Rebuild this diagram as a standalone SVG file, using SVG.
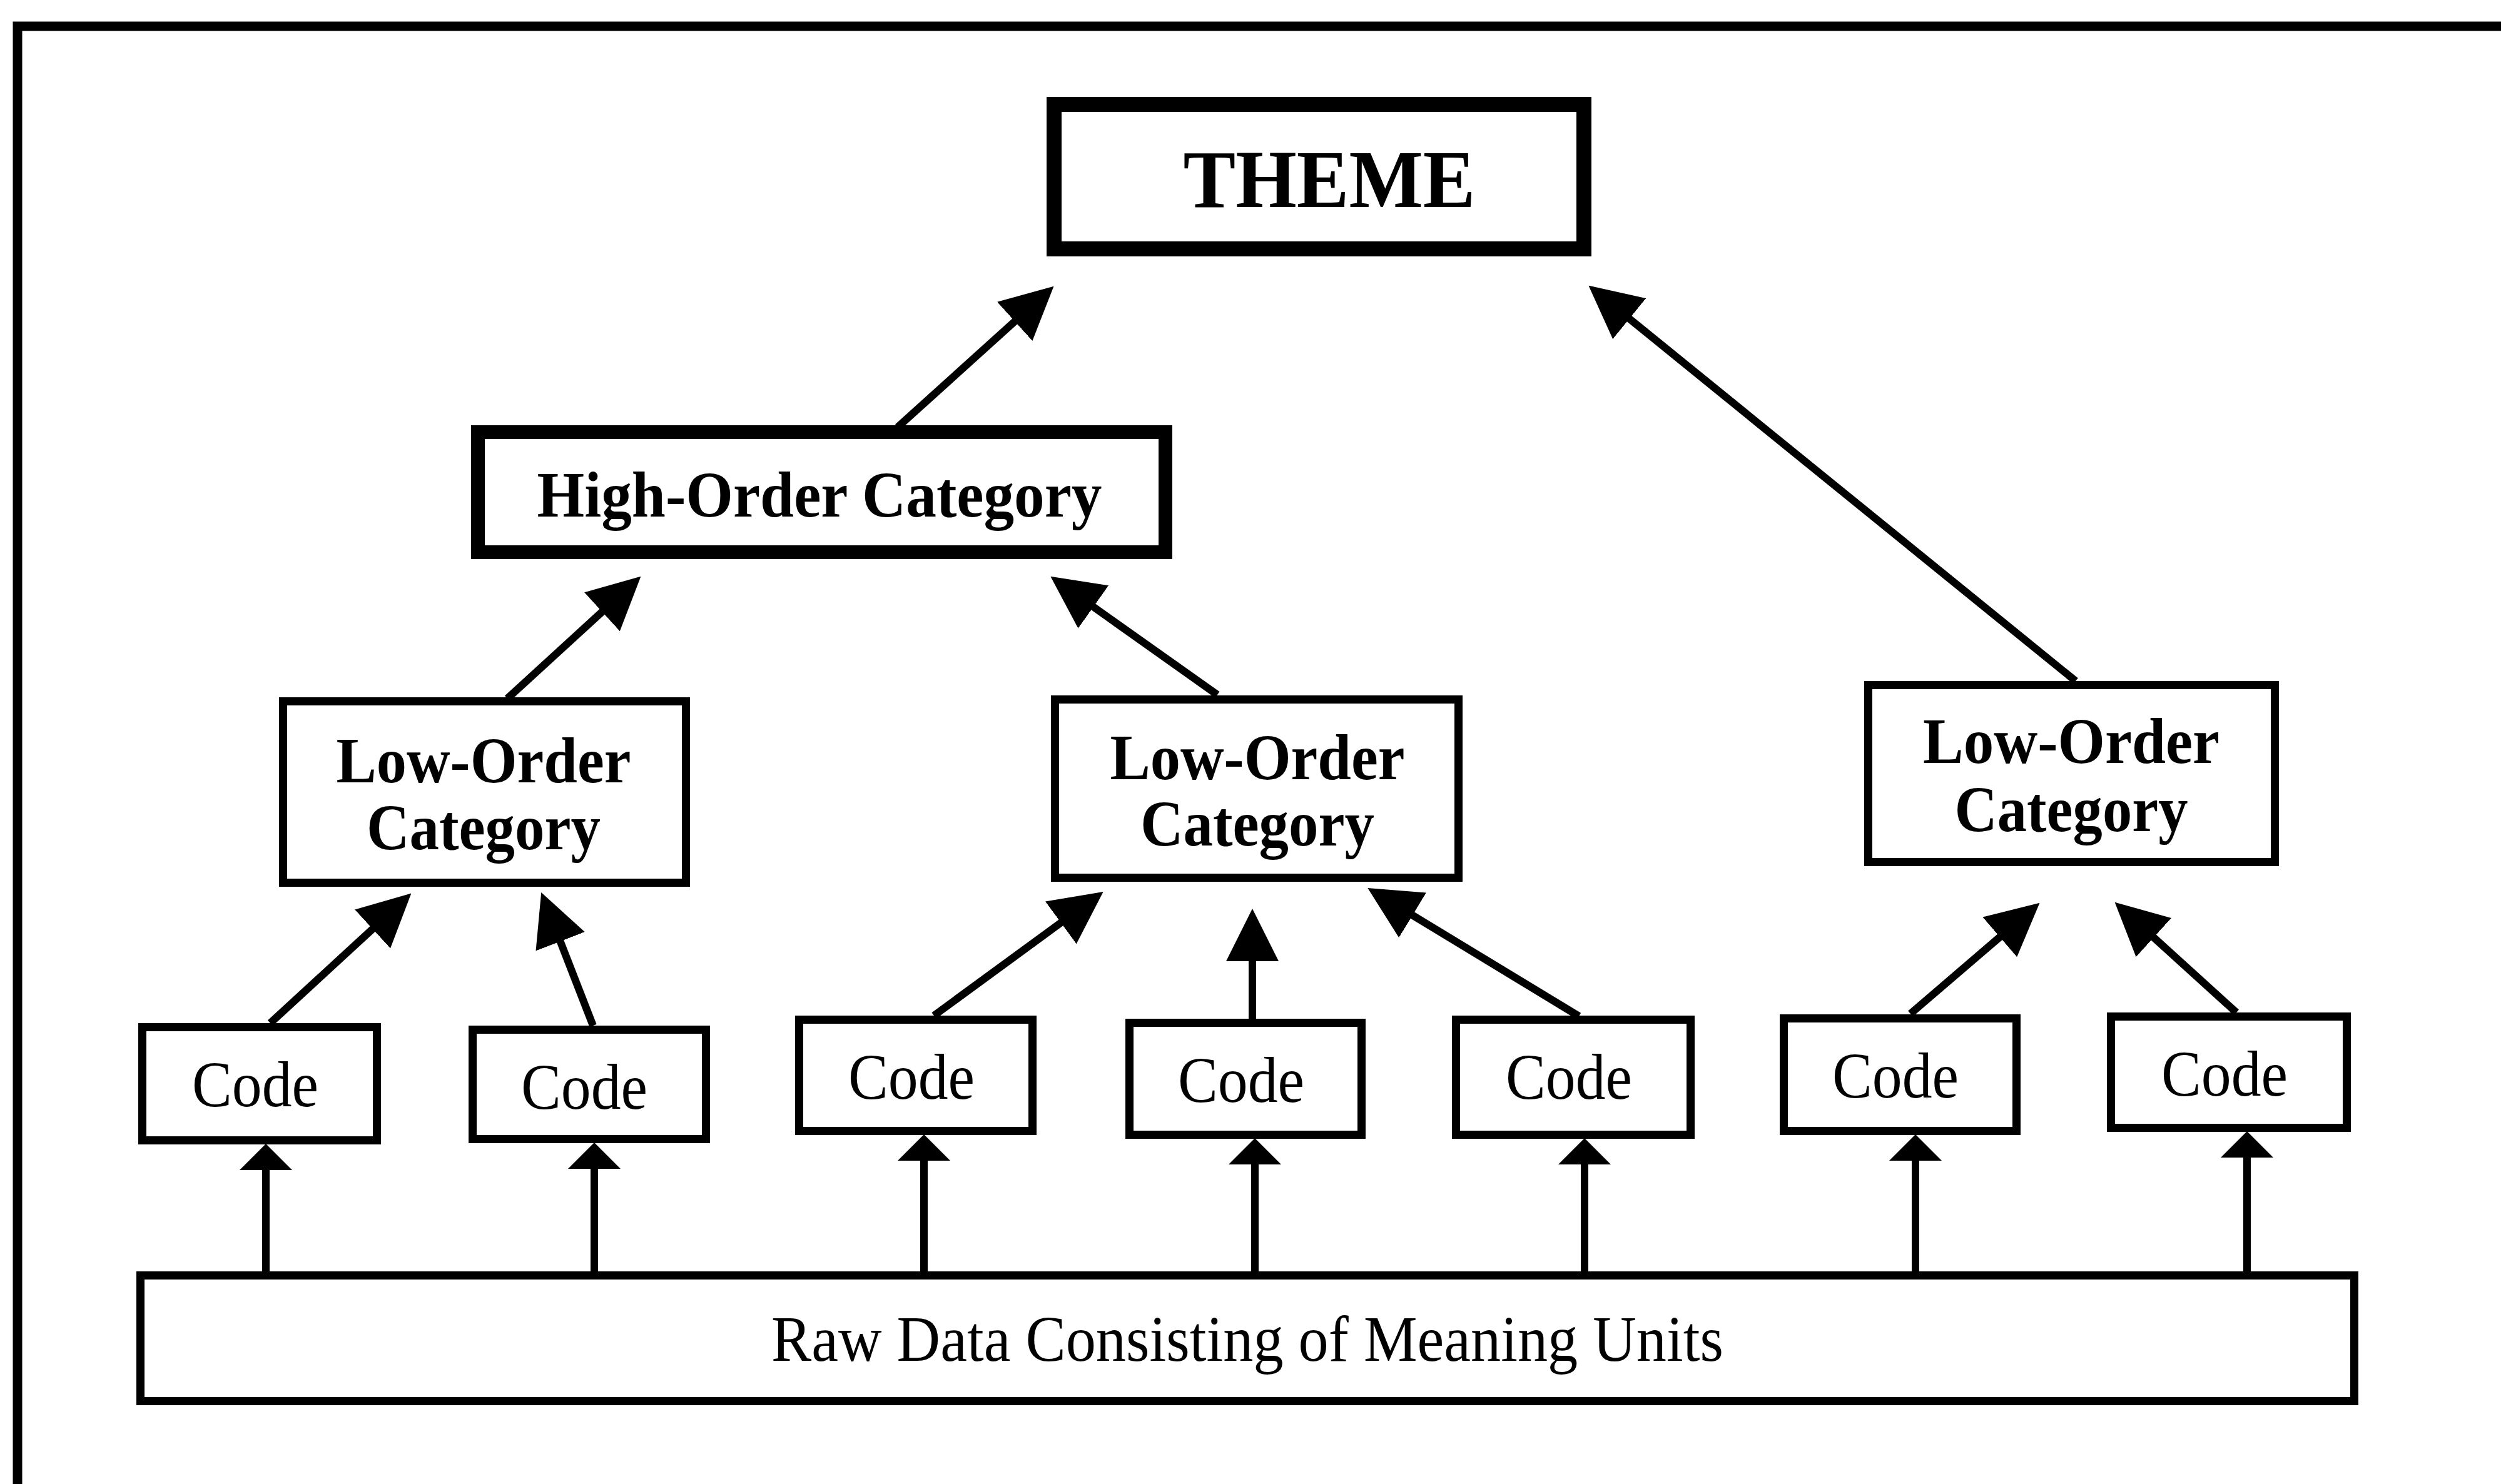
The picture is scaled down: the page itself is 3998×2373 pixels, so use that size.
<svg xmlns="http://www.w3.org/2000/svg" width="3998" height="2373" viewBox="0 0 3998 2373">
<style>
.box{fill:#fff;stroke:#000}
.t{font-family:"Liberation Serif","Times New Roman",serif;fill:#000;text-anchor:middle}
.b{font-weight:bold}
.c{fill:none;stroke:#000;stroke-width:12}
.big{marker-end:url(#ah)}
.small{marker-end:url(#as)}
</style>
<defs>
<marker id="ah" markerUnits="userSpaceOnUse" markerWidth="84" markerHeight="84" refX="22" refY="42" orient="auto" viewBox="0 0 84 84">
<path d="M0,0 L84,42 L0,84 z" fill="#000"/>
</marker>
<marker id="as" markerUnits="userSpaceOnUse" markerWidth="42" markerHeight="84" refX="11" refY="42" orient="auto" viewBox="0 0 42 84">
<path d="M0,0 L42,42 L0,84 z" fill="#000"/>
</marker>
</defs>
<rect x="0" y="0" width="3998" height="2373" fill="#fff"/>
<path id="frame" d="M28,2373 V42 H3998" fill="none" stroke="#000" stroke-width="15"/>

<g id="connectors">
<line class="c big" x1="1435" y1="683" x2="1638.5" y2="499.2"/>
<line class="c big" x1="3318" y1="1089" x2="2587.6" y2="495.8"/>
<line class="c big" x1="811" y1="1117" x2="978.7" y2="963.5"/>
<line class="c big" x1="1946" y1="1111" x2="1729.9" y2="957.7"/>
<line class="c big" x1="432" y1="1636" x2="611.8" y2="1470.6"/>
<line class="c big" x1="948" y1="1640" x2="887.7" y2="1484.9"/>
<line class="c big" x1="1493" y1="1624" x2="1713.6" y2="1462.5"/>
<line class="c big" x1="2002" y1="1629" x2="2002" y2="1515"/>
<line class="c big" x1="2524" y1="1625" x2="2239.3" y2="1452.1"/>
<line class="c big" x1="3054" y1="1621" x2="3213.5" y2="1484.1"/>
<line class="c big" x1="3575" y1="1619" x2="3426.5" y2="1484.3"/>
<line class="c small" x1="425" y1="2040" x2="425" y2="1860"/>
<line class="c small" x1="950" y1="2040" x2="950" y2="1858"/>
<line class="c small" x1="1477" y1="2040" x2="1477" y2="1845"/>
<line class="c small" x1="2006" y1="2040" x2="2006" y2="1851"/>
<line class="c small" x1="2533" y1="2040" x2="2533" y2="1851"/>
<line class="c small" x1="3062" y1="2040" x2="3062" y2="1845"/>
<line class="c small" x1="3592" y1="2040" x2="3592" y2="1840"/>
</g>

<g id="theme">
<rect class="box" x="1685" y="167" width="847" height="231" stroke-width="24"/>
<text class="t b" x="2125" y="331" font-size="132" textLength="467" lengthAdjust="spacingAndGlyphs">THEME</text>
</g>

<g id="high-order">
<rect class="box" x="764" y="691" width="1099" height="192" stroke-width="22"/>
<text class="t b" x="1310" y="826" font-size="104" textLength="903" lengthAdjust="spacingAndGlyphs">High-Order Category</text>
</g>

<g id="low-order-1">
<rect class="box" x="452.5" y="1121.5" width="644" height="290" stroke-width="13"/>
<text class="t b" x="773" y="1251" font-size="104" textLength="471" lengthAdjust="spacingAndGlyphs">Low-Order</text>
<text class="t b" x="773" y="1358" font-size="104" textLength="374" lengthAdjust="spacingAndGlyphs">Category</text>
</g>

<g id="low-order-2">
<rect class="box" x="1686.5" y="1118.5" width="645" height="285" stroke-width="13"/>
<text class="t b" x="2010" y="1246" font-size="104" textLength="471" lengthAdjust="spacingAndGlyphs">Low-Order</text>
<text class="t b" x="2010" y="1352" font-size="104" textLength="374" lengthAdjust="spacingAndGlyphs">Category</text>
</g>

<g id="low-order-3">
<rect class="box" x="2986.5" y="1095.5" width="650" height="283" stroke-width="13"/>
<text class="t b" x="3311" y="1220" font-size="104" textLength="474" lengthAdjust="spacingAndGlyphs">Low-Order</text>
<text class="t b" x="3311" y="1329" font-size="104" textLength="373" lengthAdjust="spacingAndGlyphs">Category</text>
</g>

<g id="code-1">
<rect class="box" x="227.5" y="1642.5" width="375" height="181" stroke-width="13"/>
<text class="t" x="408" y="1769" font-size="104" textLength="202" lengthAdjust="spacingAndGlyphs">Code</text>
</g>
<g id="code-2">
<rect class="box" x="755.5" y="1646.5" width="373" height="175" stroke-width="13"/>
<text class="t" x="934" y="1773" font-size="104" textLength="202" lengthAdjust="spacingAndGlyphs">Code</text>
</g>
<g id="code-3">
<rect class="box" x="1277.5" y="1630.5" width="373" height="178" stroke-width="13"/>
<text class="t" x="1457" y="1757" font-size="104" textLength="202" lengthAdjust="spacingAndGlyphs">Code</text>
</g>
<g id="code-4">
<rect class="box" x="1805.5" y="1635.5" width="371" height="179" stroke-width="13"/>
<text class="t" x="1984" y="1762" font-size="104" textLength="202" lengthAdjust="spacingAndGlyphs">Code</text>
</g>
<g id="code-5">
<rect class="box" x="2327.5" y="1630.5" width="375" height="184" stroke-width="13"/>
<text class="t" x="2508" y="1757" font-size="104" textLength="202" lengthAdjust="spacingAndGlyphs">Code</text>
</g>
<g id="code-6">
<rect class="box" x="2851.5" y="1628.5" width="372" height="180" stroke-width="13"/>
<text class="t" x="3030" y="1755" font-size="104" textLength="202" lengthAdjust="spacingAndGlyphs">Code</text>
</g>
<g id="code-7">
<rect class="box" x="3374.5" y="1625.5" width="377" height="178" stroke-width="13"/>
<text class="t" x="3556" y="1752" font-size="104" textLength="202" lengthAdjust="spacingAndGlyphs">Code</text>
</g>

<g id="raw-data">
<rect class="box" x="224.5" y="2039.5" width="3539" height="201" stroke-width="13"/>
<text class="t" x="1994" y="2176" font-size="104" textLength="1522" lengthAdjust="spacingAndGlyphs">Raw Data Consisting of Meaning Units</text>
</g>
</svg>
